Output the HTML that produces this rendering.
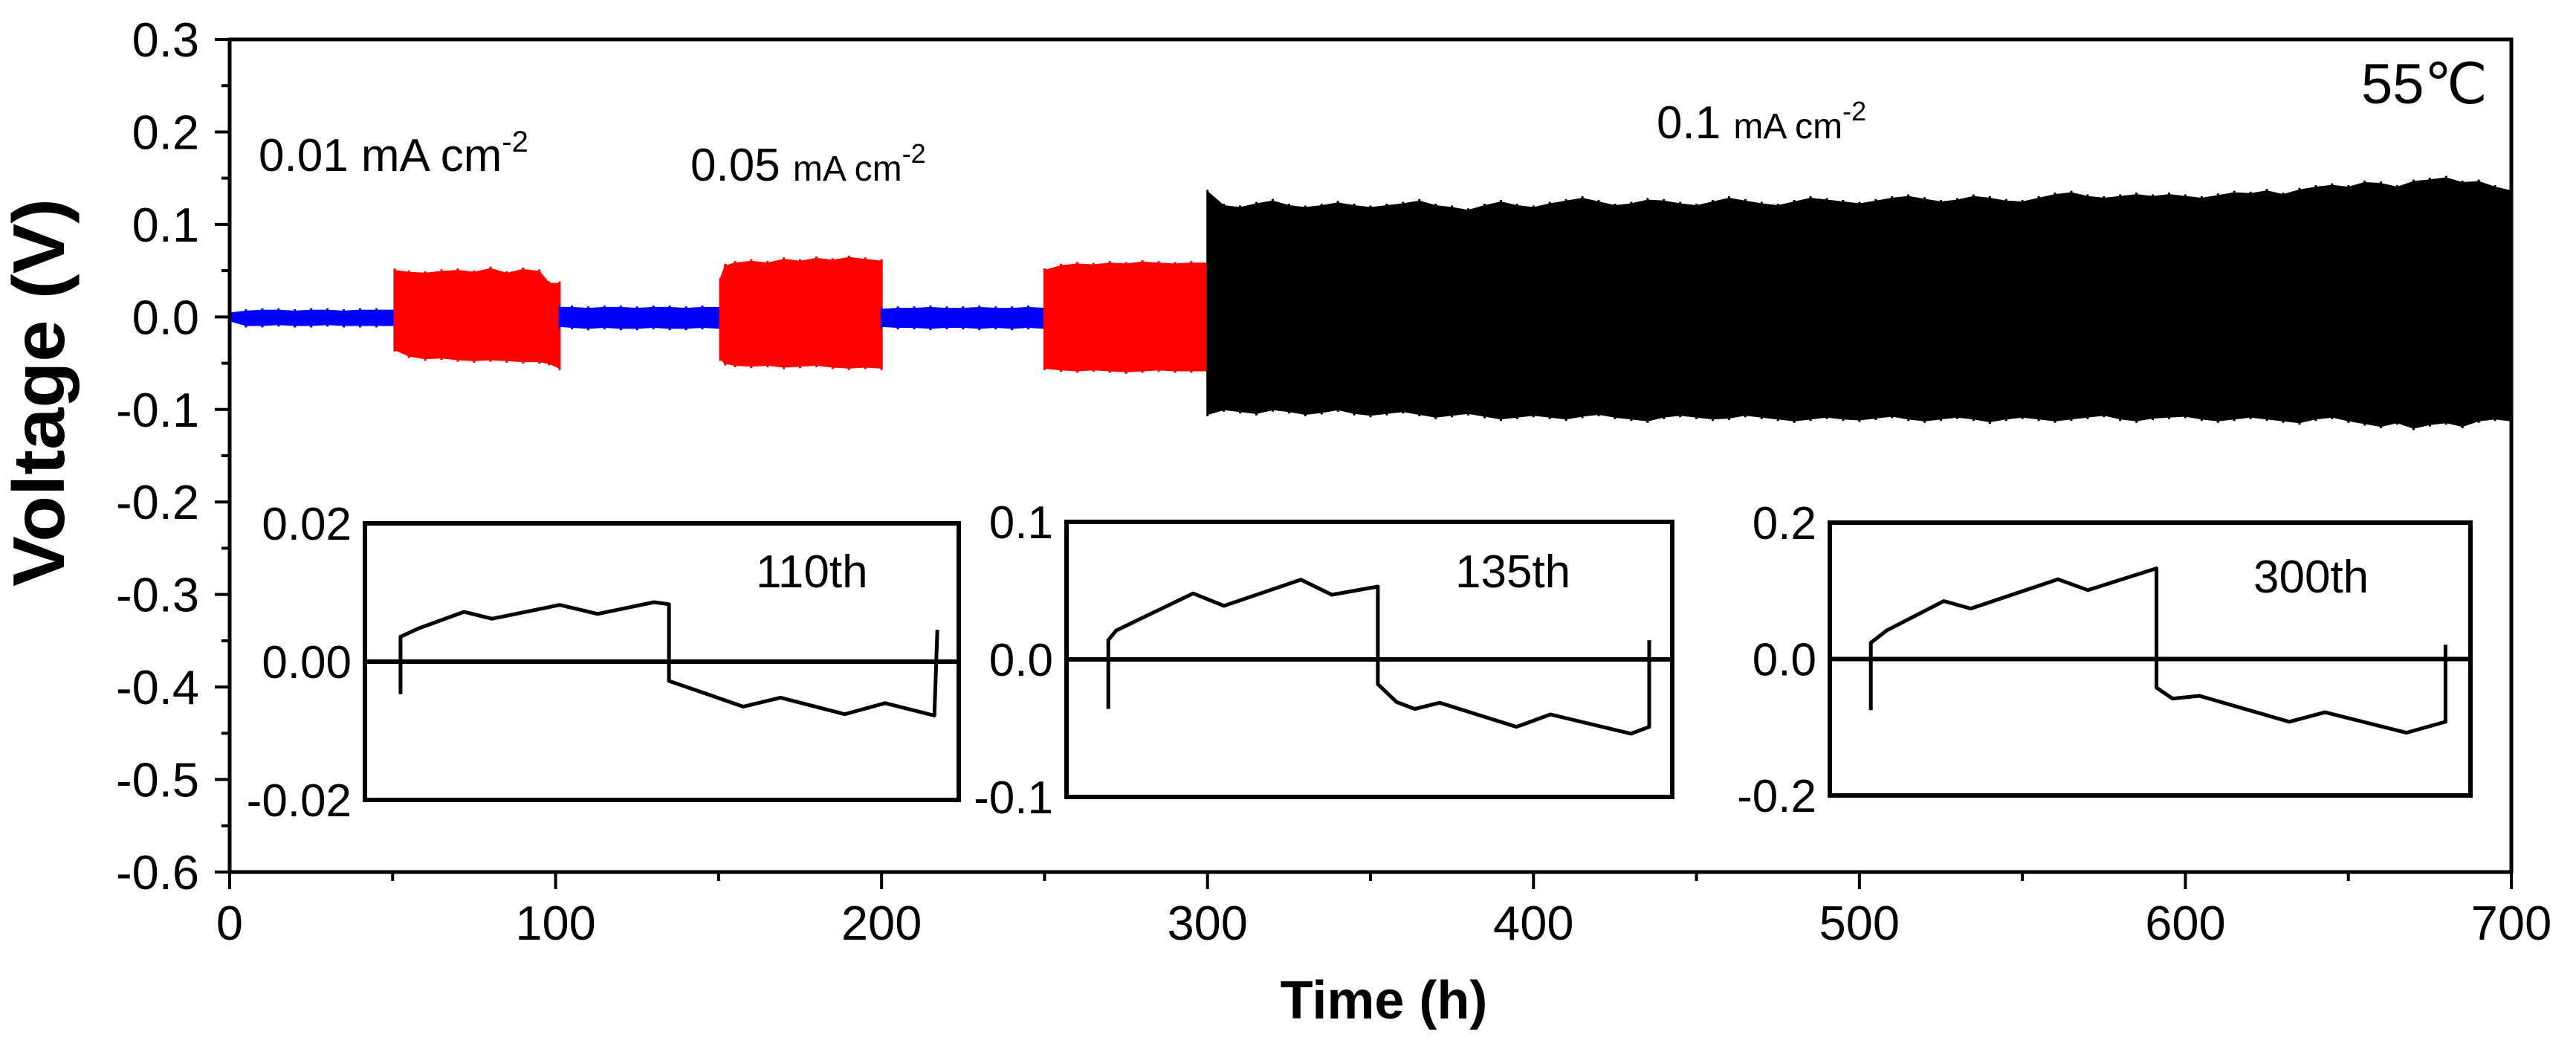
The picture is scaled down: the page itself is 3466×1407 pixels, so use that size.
<!DOCTYPE html>
<html><head><meta charset="utf-8"><style>
html,body{margin:0;padding:0;background:#fff;}
svg{display:block;font-family:"Liberation Sans",Arial,sans-serif;}
</style></head><body>
<svg id="chart" width="3466" height="1407" viewBox="0 0 3466 1407" xmlns="http://www.w3.org/2000/svg">
<g id="marks"></g>
<g id="insets"></g>
<g id="axes"></g>
<text x="348" y="230" font-size="62">0.01 mA cm<tspan font-size="40" dy="-26">-2</tspan></text>
<text x="929" y="243" font-size="62">0.05 <tspan font-size="48">mA cm</tspan><tspan font-size="36" dy="-24">-2</tspan></text>
<text x="2229" y="186" font-size="62">0.1 <tspan font-size="48">mA cm</tspan><tspan font-size="36" dy="-24">-2</tspan></text>
<text x="3177" y="139" font-size="76">55℃</text>
<text x="1862" y="1370" font-size="72" font-weight="bold" text-anchor="middle">Time (h)</text>
<text transform="translate(86,528) rotate(-90)" font-size="98" font-weight="bold" text-anchor="middle" textLength="522" lengthAdjust="spacingAndGlyphs">Voltage (V)</text>
</svg>
<script>
// ---- main chart data ----
const xTicks = [0,100,200,300,400,500,600,700];
const yTicks = [0.3,0.2,0.1,0.0,-0.1,-0.2,-0.3,-0.4,-0.5,-0.6];
const yTickLabels = ["0.3","0.2","0.1","0.0","-0.1","-0.2","-0.3","-0.4","-0.5","-0.6"];
const blue1Time = [0,5,10,15,20,25,30,35,40,45,50.6];
const blue1Upper = [0.004,0.006,0.007,0.007,0.006,0.007,0.007,0.006,0.007,0.007,0.007];
const blue1Lower = [-0.004,-0.009,-0.009,-0.008,-0.009,-0.009,-0.008,-0.009,-0.009,-0.009,-0.009];
const red1Time = [50.6,55,60,65,70,75,80,85,90,95,98,101.2];
const red1Upper = [0.05,0.048,0.047,0.049,0.05,0.048,0.052,0.047,0.051,0.049,0.036,0.036];
const red1Lower = [-0.035,-0.042,-0.045,-0.044,-0.046,-0.047,-0.046,-0.047,-0.048,-0.048,-0.05,-0.055];
const blue2Time = [101.2,105,110,115,120,125,130,135,140,145,150.5];
const blue2Upper = [0.01,0.01,0.009,0.01,0.01,0.009,0.01,0.01,0.009,0.01,0.01];
const blue2Lower = [-0.01,-0.011,-0.012,-0.011,-0.012,-0.012,-0.011,-0.012,-0.012,-0.011,-0.012];
const red2Time = [150.5,152,155,160,165,170,175,180,185,190,195,200];
const red2Upper = [0.04,0.055,0.058,0.06,0.058,0.062,0.06,0.063,0.061,0.064,0.062,0.06];
const red2Lower = [-0.045,-0.05,-0.052,-0.053,-0.052,-0.054,-0.053,-0.052,-0.054,-0.055,-0.054,-0.055];
const blue3Time = [200,205,210,215,220,225,230,235,240,245,250];
const blue3Upper = [0.008,0.009,0.009,0.01,0.009,0.009,0.01,0.009,0.009,0.01,0.009];
const blue3Lower = [-0.01,-0.011,-0.011,-0.012,-0.011,-0.011,-0.012,-0.011,-0.012,-0.011,-0.012];
const red3Time = [250,255,260,265,270,275,280,285,290,295,300];
const red3Upper = [0.05,0.055,0.057,0.056,0.058,0.057,0.059,0.058,0.057,0.058,0.058];
const red3Lower = [-0.055,-0.057,-0.058,-0.057,-0.058,-0.059,-0.058,-0.057,-0.058,-0.058,-0.058];
const blackStart = 300, blackStep = 5;
const blackUpper = [0.135,0.12,0.118,0.122,0.125,0.12,0.118,0.12,0.123,0.12,
0.118,0.12,0.122,0.125,0.12,0.118,0.115,0.12,0.124,0.12,
0.118,0.122,0.125,0.128,0.124,0.12,0.122,0.126,0.125,0.122,
0.12,0.124,0.128,0.125,0.122,0.12,0.124,0.128,0.126,0.124,
0.122,0.125,0.128,0.13,0.127,0.124,0.126,0.13,0.128,0.125,
0.124,0.128,0.132,0.134,0.13,0.128,0.13,0.132,0.13,0.132,
0.13,0.128,0.131,0.134,0.133,0.136,0.132,0.137,0.14,0.142,
0.14,0.145,0.144,0.14,0.146,0.148,0.15,0.145,0.146,0.14,0.136];
const blackLower = [-0.105,-0.1,-0.102,-0.104,-0.1,-0.102,-0.105,-0.103,-0.1,-0.104,
-0.106,-0.104,-0.102,-0.105,-0.108,-0.106,-0.104,-0.107,-0.11,-0.108,
-0.106,-0.108,-0.11,-0.107,-0.105,-0.108,-0.11,-0.112,-0.108,-0.106,
-0.108,-0.11,-0.109,-0.106,-0.108,-0.11,-0.112,-0.11,-0.108,-0.11,
-0.111,-0.109,-0.107,-0.11,-0.112,-0.11,-0.108,-0.11,-0.113,-0.11,
-0.108,-0.11,-0.112,-0.11,-0.108,-0.106,-0.11,-0.112,-0.109,-0.108,
-0.107,-0.11,-0.112,-0.11,-0.108,-0.11,-0.112,-0.114,-0.11,-0.108,
-0.112,-0.115,-0.118,-0.114,-0.12,-0.116,-0.114,-0.118,-0.112,-0.11,-0.112];

// ---- inset data (t = fraction of inset width) ----
const inset1T = [0.060,0.060,0.09,0.167,0.214,0.328,0.392,0.487,0.512,0.512,0.56,0.637,0.70,0.808,0.876,0.959,0.964];
const inset1V = [-0.0047,0.0036,0.0048,0.0072,0.0062,0.0082,0.0069,0.0086,0.0083,-0.0028,-0.0042,-0.0065,-0.0052,-0.0076,-0.006,-0.0078,0.0046];
const inset2T = [0.069,0.069,0.082,0.209,0.26,0.387,0.438,0.514,0.514,0.545,0.575,0.616,0.743,0.799,0.932,0.962,0.962];
const inset2V = [-0.036,0.014,0.021,0.048,0.039,0.058,0.047,0.053,-0.018,-0.031,-0.036,-0.0315,-0.049,-0.040,-0.054,-0.049,0.014];
const inset3T = [0.064,0.064,0.089,0.178,0.22,0.356,0.403,0.51,0.51,0.535,0.577,0.717,0.773,0.90,0.961,0.961];
const inset3V = [-0.075,0.024,0.042,0.085,0.074,0.117,0.101,0.133,-0.042,-0.058,-0.054,-0.092,-0.078,-0.108,-0.092,0.021];

const NS = "http://www.w3.org/2000/svg";
const X0 = 309, X1 = 3379, Y0 = 53, Y1 = 1173;
const xS = t => X0 + (t - 0) / 700 * (X1 - X0);
const yS = v => Y0 + (0.3 - v) / 0.9 * (Y1 - Y0);
function mk(tag, attrs, parent){ const e = document.createElementNS(NS, tag); for (const k in attrs) e.setAttribute(k, attrs[k]); parent.appendChild(e); return e; }
const marks = document.getElementById('marks');
function band(times, up, lo, color, name){
  let pts = [];
  for (let i=0;i<times.length;i++) pts.push(xS(times[i]).toFixed(1)+","+yS(up[i]).toFixed(1));
  for (let i=times.length-1;i>=0;i--) pts.push(xS(times[i]).toFixed(1)+","+yS(lo[i]).toFixed(1));
  const p = mk('polygon', {points: pts.join(' '), fill: color, stroke: color, 'stroke-width': 2}, marks);
  
  
  for (let i=0;i<times.length;i++){
    const l = mk('line', {x1:xS(times[i]), x2:xS(times[i]), y1:yS(up[i])-3, y2:yS(lo[i])+3, stroke: color, 'stroke-width': 3}, marks);
    
    
  }
}
band(blue1Time, blue1Upper, blue1Lower, '#0000ff', 'series-blue-1');
band(red1Time, red1Upper, red1Lower, '#ff0000', 'series-red-1');
band(blue2Time, blue2Upper, blue2Lower, '#0000ff', 'series-blue-2');
band(red2Time, red2Upper, red2Lower, '#ff0000', 'series-red-2');
band(blue3Time, blue3Upper, blue3Lower, '#0000ff', 'series-blue-3');
band(red3Time, red3Upper, red3Lower, '#ff0000', 'series-red-3');
const blackTime = blackUpper.map((_, i) => blackStart + i * blackStep);
band(blackTime, blackUpper, blackLower, '#000000', 'series-black');

// axes
const axes = document.getElementById('axes');
const frame = mk('rect', {x:X0, y:Y0, width:X1-X0, height:Y1-Y0, fill:'none', stroke:'#000', 'stroke-width':5}, axes);


yTicks.forEach((v, i) => {
  const t = mk('line', {x1:X0-20, x2:X0, y1:yS(v), y2:yS(v), stroke:'#000', 'stroke-width':4}, axes);
  
  
  if (i < yTicks.length - 1) {
    const m = mk('line', {x1:X0-11, x2:X0, y1:yS(v-0.05), y2:yS(v-0.05), stroke:'#000', 'stroke-width':4}, axes);
    
    
  }
  const lb = mk('text', {x:268, y:yS(v)+23, 'font-size':65, 'text-anchor':'end'}, axes);
  lb.textContent = yTickLabels[i];
  
  
});
xTicks.forEach((v, i) => {
  const t = mk('line', {x1:xS(v), x2:xS(v), y1:Y1, y2:Y1+23, stroke:'#000', 'stroke-width':4}, axes);
  
  
  if (i < xTicks.length - 1) {
    const m = mk('line', {x1:xS(v+50), x2:xS(v+50), y1:Y1, y2:Y1+12, stroke:'#000', 'stroke-width':4}, axes);
    
    
  }
  const lb = mk('text', {x:xS(v), y:1264, 'font-size':65, 'text-anchor':'middle'}, axes);
  lb.textContent = String(v);
  
  
});

// insets
const insG = document.getElementById('insets');
function inset(box, lim, labels, T, V, title, titlePos, name){
  const g = mk('g', {}, insG);
  
  
  const {l, r, t, b} = box;
  const ix = f => l + f * (r - l);
  const iy = v => t + (lim - v) / (2 * lim) * (b - t);
  const rc = mk('rect', {x:l, y:t, width:r-l, height:b-t, fill:'#fff', stroke:'#000', 'stroke-width':6}, g);
  
  
  const z = mk('line', {x1:l, x2:r, y1:iy(0), y2:iy(0), stroke:'#000', 'stroke-width':6}, g);
  
  
  [lim, 0, -lim].forEach((v, i) => {
    const lb = mk('text', {x:l-18, y:iy(v)+22, 'font-size':62, 'text-anchor':'end'}, g);
    lb.textContent = labels[i];
    
    
  });
  const pts = T.map((f, i) => ix(f).toFixed(1) + ',' + iy(V[i]).toFixed(1)).join(' ');
  const pl = mk('polyline', {points:pts, fill:'none', stroke:'#000', 'stroke-width':5, 'stroke-linejoin':'round'}, g);
  
  
  const tt = mk('text', {x:titlePos[0], y:titlePos[1], 'font-size':62}, g);
  tt.textContent = title;
  
  
}
inset({l:491, r:1290, t:704, b:1076}, 0.02, ["0.02","0.00","-0.02"], inset1T, inset1V, "110th", [1017, 790], 'inset-110th');
inset({l:1435, r:2250, t:702, b:1072}, 0.1, ["0.1","0.0","-0.1"], inset2T, inset2V, "135th", [1958, 790], 'inset-135th');
inset({l:2462, r:3324, t:703, b:1070}, 0.2, ["0.2","0.0","-0.2"], inset3T, inset3V, "300th", [3032, 797], 'inset-300th');
</script>
</body></html>
